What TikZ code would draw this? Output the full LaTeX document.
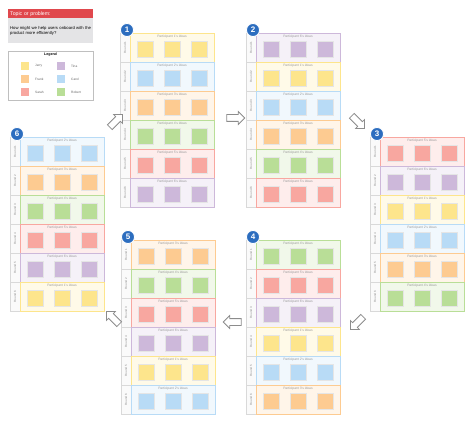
\documentclass[tikz,border=0pt]{standalone}
\usepackage{fontspec}
\setmainfont{Liberation Sans}
\usetikzlibrary{shapes.arrows,shadows}
\definecolor{badgeblue}{HTML}{2C6DBF}
\definecolor{topicred}{HTML}{E0484D}
\definecolor{topicgray}{HTML}{E4E4E6}
\definecolor{pY}{HTML}{FDE58C}
\definecolor{pO}{HTML}{FDCB91}
\definecolor{pR}{HTML}{F8A7A0}
\definecolor{pP}{HTML}{CDB8DA}
\definecolor{pB}{HTML}{B8DBF6}
\definecolor{pG}{HTML}{B9DE97}
\begin{document}
\begin{tikzpicture}[x=1pt,y=-1pt,
  board/.style={draw=black!20,fill=white,anchor=north west,minimum width=94pt,minimum height=174pt,inner sep=0pt,
    drop shadow={shadow xshift=0.6pt,shadow yshift=-0.8pt,opacity=0.2}},
  cell/.style={draw=black!15,fill=black!2,minimum width=29pt,minimum height=10pt,inner sep=0pt,rotate=90,
    text=black!45,font=\fontsize{3}{3.5}\selectfont},
  lane/.style={line width=0.6pt,anchor=north west,minimum width=84pt,minimum height=28.4pt,inner sep=0pt},
  header/.style={inner sep=0pt,text=black!40,font=\fontsize{3.3}{3.5}\selectfont},
  note/.style={draw=black!10,minimum width=16pt,minimum height=16pt,inner sep=0pt,
    drop shadow={shadow xshift=0.3pt,shadow yshift=-0.7pt,opacity=0.3}},
  badge/.style={circle,fill=badgeblue,draw=white,line width=0.8pt,minimum size=13pt,inner sep=0pt,
    text=white,font=\bfseries\fontsize{8}{8}\selectfont},
  flowarrow/.style={single arrow,draw=black!45,fill=white,line width=0.8pt,inner sep=3pt,
    minimum height=18pt,single arrow head extend=3pt,single arrow head indent=0pt},
  swatch/.style={fill=#1,minimum size=8pt,inner sep=0pt},
  legendtext/.style={anchor=west,inner sep=0pt,text=black!60,font=\fontsize{3.2}{3.5}\selectfont}]
\useasboundingbox (0,0) rectangle (474,422);

% topic or problem
\node[fill=topicred,anchor=north west,minimum width=85pt,minimum height=9pt,inner sep=2pt,
  text width=81pt,align=left,text=white,font=\fontsize{5.2}{6}\selectfont] (topic) at (8,9) {Topic or problem:};
\node[fill=topicgray,anchor=north west,minimum width=85pt,minimum height=25pt,inner sep=2pt,
  text width=81pt,align=left,font=\fontsize{4.2}{5.2}\selectfont] (question) at (8,18)
  {How might we help users onboard with the product more efficiently?\par\vspace{8pt}};

% legend
\node[draw=black!25,fill=white,anchor=north west,minimum width=85pt,minimum height=49pt,inner sep=0pt,
  drop shadow={shadow xshift=0.5pt,shadow yshift=-0.6pt,opacity=0.2}] (legend) at (8,51) {};
\node[font=\bfseries\fontsize{3.6}{4}\selectfont,inner sep=0pt] (legendtitle) at (50.5,55) {Legend};
\foreach \c/\name/\sx/\sy in {pY/Jerry/25/66,pO/Frank/25/79,pR/Sarah/25/92,
                              pP/Tina/61/66,pB/Carol/61/79,pG/Robert/61/92}
{
  \node[swatch=\c] (sw-\name) at (\sx,\sy) {};
  \node[legendtext] (lbl-\name) at (\sx+10,\sy) {\name};
}

% boards, one per round of the rotation
\foreach \b/\bx/\by/\plist in {
  1/120/33/{Y/1,B/2,O/3,G/4,R/5,P/6},
  2/246/33/{P/6,Y/1,B/2,O/3,G/4,R/5},
  3/370/137/{R/5,P/6,Y/1,B/2,O/3,G/4},
  4/246/240/{G/4,R/5,P/6,Y/1,B/2,O/3},
  5/121/240/{O/3,G/4,R/5,P/6,Y/1,B/2},
  6/10/137/{B/2,O/3,G/4,R/5,P/6,Y/1}}
{
  \node[board] (board\b) at (\bx,\by) {};
  \foreach \c/\p [count=\r] in \plist
  {
    \node[cell] (b\b-l\r) at (\bx+5,\by+\r*29-14.5) {Round \r};
    \node[lane,draw=p\c,fill=p\c!20] (b\b-r\r) at (\bx+10,\by+\r*29-28.8) {};
    \node[header] (b\b-h\r) at (\bx+52,\by+\r*29-25.5) {Participant \p's ideas};
    \foreach \n/\dx in {1/15,2/42,3/69}
      \node[note,fill=p\c] (b\b-r\r-n\n) at (\bx+10+\dx,\by+\r*29-13) {};
  }
  \node[badge] (badge\b) at (\bx+7,\by-3) {\b};
}

% arrows between the boards
\node[flowarrow,rotate=45] (arr61) at (115,122) {};
\node[flowarrow] (arr12) at (234,118) {};
\node[flowarrow,rotate=-45] (arr23) at (357,121) {};
\node[flowarrow,rotate=-135] (arr34) at (358,322) {};
\node[flowarrow,rotate=180] (arr45) at (234,322) {};
\node[flowarrow,rotate=135] (arr56) at (114,319) {};
\end{tikzpicture}
\end{document}
